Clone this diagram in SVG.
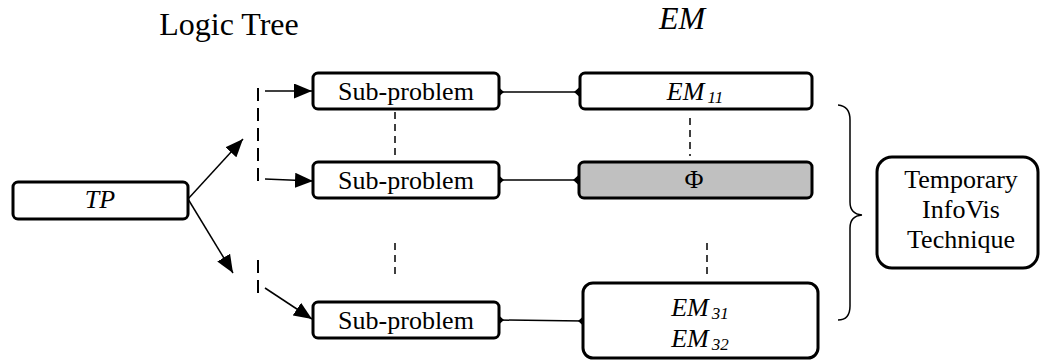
<svg xmlns="http://www.w3.org/2000/svg" width="1042" height="360" viewBox="0 0 1042 360" font-family="'Liberation Serif', 'Times New Roman', serif">
  <style>
    text { font-family: "Liberation Serif", "Times New Roman", serif; fill: #000; }
    .title { font-size: 32px; }
    .lbl { font-size: 26px; }
    .it { font-style: italic; }
    .sub { font-size: 17px; font-style: italic; }
    .box { fill: #fff; stroke: #000; stroke-width: 3; }
    .grey { fill: #c0c0c0; }
    .line { fill: none; stroke: #000; stroke-width: 1.5; }
    .dash { fill: none; stroke: #000; stroke-width: 1.5; stroke-dasharray: 7 5; }
    .ldash { fill: none; stroke: #000; stroke-width: 2; stroke-dasharray: 13 7; }
  </style>
  <defs>
    <marker id="arrow" markerUnits="userSpaceOnUse" markerWidth="19" markerHeight="15" refX="18" refY="7.5" orient="auto">
      <path d="M0,0 L18,7.5 L0,15 Z" fill="#000"/>
    </marker>
    <marker id="dot" markerUnits="userSpaceOnUse" markerWidth="10" markerHeight="10" refX="5" refY="5" orient="auto">
      <path d="M0,5 L5,0.5 L10,5 L5,9.5 Z" fill="#000"/>
    </marker>
  </defs>

  <!-- column headings -->
  <text class="title" x="229" y="35" text-anchor="middle">Logic Tree</text>
  <text class="title it" x="682" y="29" text-anchor="middle" font-size="30">EM</text>

  <!-- connectors -->
  <g id="connectors">
    <line class="line" x1="188" y1="199" x2="243" y2="139" marker-end="url(#arrow)"/>
    <line class="line" x1="188" y1="199" x2="233" y2="273" marker-end="url(#arrow)"/>
    <line class="ldash" x1="258" y1="88" x2="258" y2="185"/>
    <line class="ldash" x1="258" y1="260" x2="258" y2="297" stroke-dasharray="15 7"/>
    <line class="line" x1="265" y1="91" x2="312" y2="91" marker-end="url(#arrow)"/>
    <line class="line" x1="265" y1="179" x2="313" y2="181" marker-end="url(#arrow)"/>
    <line class="line" x1="265" y1="288" x2="312" y2="319" marker-end="url(#arrow)"/>

    <line class="line" x1="499" y1="92" x2="579" y2="92" marker-start="url(#dot)" marker-end="url(#dot)"/>
    <line class="line" x1="499" y1="180" x2="578" y2="180" marker-start="url(#dot)" marker-end="url(#dot)"/>
    <line class="line" x1="499" y1="320" x2="583" y2="321" marker-start="url(#dot)" marker-end="url(#dot)"/>

    <line class="dash" x1="395" y1="112" x2="395" y2="156"/>
    <line class="dash" x1="395" y1="243" x2="395" y2="276"/>
    <line class="dash" x1="690" y1="118" x2="690" y2="156"/>
    <line class="dash" x1="707" y1="243" x2="707" y2="276"/>

    <!-- brace grouping the EM rows -->
    <path class="line" d="M838,105 Q850,106 850,120 L850,202 Q850,214 862,215 Q850,216 850,228 L850,306 Q850,320 838,320"/>
  </g>

  <g id="node-tp">
    <rect class="box" x="13" y="182" width="175" height="37" rx="5"/>
    <text class="lbl it" x="100" y="208" text-anchor="middle">TP</text>
  </g>

  <g id="node-sub1">
    <rect class="box" x="313" y="73" width="186" height="36" rx="5"/>
    <text class="lbl" x="406" y="100" text-anchor="middle">Sub-problem</text>
  </g>
  <g id="node-sub2">
    <rect class="box" x="313" y="162" width="186" height="36" rx="5"/>
    <text class="lbl" x="406" y="189" text-anchor="middle">Sub-problem</text>
  </g>
  <g id="node-sub3">
    <rect class="box" x="313" y="302" width="186" height="36" rx="5"/>
    <text class="lbl" x="406" y="329" text-anchor="middle">Sub-problem</text>
  </g>

  <g id="node-em11">
    <rect class="box" x="580" y="73" width="232" height="36" rx="5"/>
    <text class="lbl" x="695" y="100" text-anchor="middle"><tspan class="it">EM</tspan><tspan class="sub" dx="3" dy="3">11</tspan></text>
  </g>
  <g id="node-phi">
    <rect class="box grey" x="579" y="162" width="233" height="36" rx="5"/>
    <text class="lbl" x="694" y="188" text-anchor="middle">Φ</text>
  </g>
  <g id="node-em3">
    <rect class="box" x="583" y="283" width="235" height="75" rx="10"/>
    <text class="lbl" x="700" y="316" text-anchor="middle"><tspan class="it">EM</tspan><tspan class="sub" dx="3" dy="3">31</tspan></text>
    <text class="lbl" x="700" y="347" text-anchor="middle"><tspan class="it">EM</tspan><tspan class="sub" dx="3" dy="3">32</tspan></text>
  </g>

  <g id="node-infovis">
    <rect class="box" x="877" y="157" width="161" height="111" rx="15"/>
    <text class="lbl" x="961" y="188" text-anchor="middle">Temporary</text>
    <text class="lbl" x="961" y="218" text-anchor="middle">InfoVis</text>
    <text class="lbl" x="961" y="248" text-anchor="middle">Technique</text>
  </g>
</svg>
